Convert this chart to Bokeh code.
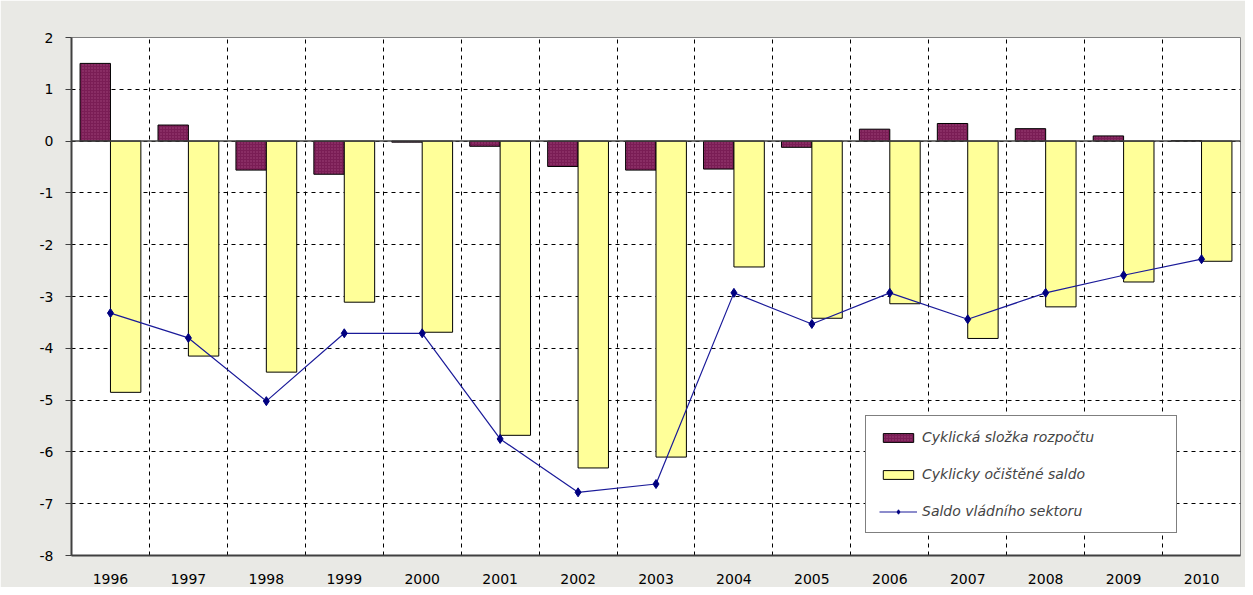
import numpy as np
from bokeh.plotting import figure
from bokeh.models import ColumnDataSource, FixedTicker, Legend, LegendItem, Span
from bokeh.transform import dodge
from bokeh.embed import file_html
from bokeh.resources import INLINE

years = ["1996", "1997", "1998", "1999", "2000", "2001", "2002", "2003",
         "2004", "2005", "2006", "2007", "2008", "2009", "2010"]
cyclical = [1.5, 0.31, -0.56, -0.64, -0.02, -0.10, -0.49, -0.56,
            -0.54, -0.12, 0.23, 0.34, 0.24, 0.10, 0.01]
adjusted = [-4.85, -4.15, -4.46, -3.11, -3.69, -5.68, -6.31, -6.10,
            -2.43, -3.42, -3.14, -3.81, -3.20, -2.72, -2.32]
balance = [-3.32, -3.80, -5.02, -3.71, -3.71, -5.75, -6.78, -6.62,
           -2.93, -3.53, -2.93, -3.44, -2.93, -2.59, -2.28]
y_ticks = [-8, -7, -6, -5, -4, -3, -2, -1, 0, 1, 2]
label_cyc = "Cyklická složka rozpočtu"
label_adj = "Cyklicky očištěné saldo"
label_bal = "Saldo vládního sektoru"

xs = np.arange(len(years))
src = ColumnDataSource(dict(x=xs, cyc=cyclical, adj=adjusted, bal=balance))

p = figure(width=1245, height=587, x_range=(-0.5, len(years) - 0.5), y_range=(-8, 2),
           output_backend="svg", toolbar_location=None,
           min_border_left=71, min_border_right=5, min_border_top=37, min_border_bottom=32)
p.border_fill_color = "#E9E9E5"
p.background_fill_color = "white"
p.outline_line_color = "#808080"

FONT = "DejaVu Sans"

bw = 0.39
r1 = p.vbar(x=dodge("x", -bw / 2), top="cyc", bottom=0, width=bw, source=src,
            fill_color="#7A1D55", line_color="black", line_width=1,
            hatch_pattern="dot", hatch_color="#A0457A", hatch_scale=3)
r2 = p.vbar(x=dodge("x", bw / 2), top=0, bottom="adj", width=bw, source=src,
            fill_color="#FFFF99", line_color="black", line_width=1)
zero = Span(location=0, dimension="width", line_color="#404040", line_width=1.5)
p.add_layout(zero)
r3 = p.line(x="x", y="bal", source=src, line_color="#1A1A99", line_width=1.2)
r4 = p.scatter(x="x", y="bal", source=src, marker="diamond", size=9,
               fill_color="#000080", line_color="#000080")

# grids
p.ygrid.ticker = FixedTicker(ticks=y_ticks)
p.ygrid.grid_line_color = "black"
p.ygrid.grid_line_dash = "4 4"
p.xgrid.ticker = FixedTicker(ticks=[i + 0.5 for i in range(len(years) - 1)])
p.xgrid.grid_line_color = "black"
p.xgrid.grid_line_dash = "4 4"

# axes
p.yaxis.ticker = FixedTicker(ticks=y_ticks)
p.yaxis.major_label_overrides = {t: str(t) for t in y_ticks}
p.yaxis.axis_line_color = "#404040"
p.yaxis.axis_line_width = 2
p.yaxis.major_tick_line_color = "#404040"
p.yaxis.major_tick_out = 6
p.yaxis.major_tick_in = 0
p.yaxis.minor_tick_line_color = None
p.yaxis.major_label_text_font = FONT
p.yaxis.major_label_text_font_size = "14px"
p.yaxis.major_label_text_color = "black"
p.yaxis.major_label_standoff = 12

p.xaxis.ticker = FixedTicker(ticks=list(xs))
p.xaxis.major_label_overrides = {int(i): y for i, y in zip(xs, years)}
p.xaxis.axis_line_color = "#404040"
p.xaxis.axis_line_width = 2
p.xaxis.major_tick_line_color = None
p.xaxis.minor_tick_line_color = None
p.xaxis.major_label_text_font = FONT
p.xaxis.major_label_text_font_size = "14px"
p.xaxis.major_label_text_color = "black"
p.xaxis.major_label_standoff = 12

legend = Legend(items=[
    LegendItem(label=label_cyc, renderers=[r1]),
    LegendItem(label=label_adj, renderers=[r2]),
    LegendItem(label=label_bal, renderers=[r3, r4]),
], location=(794, 22))
legend.label_text_font = FONT
legend.label_text_font_style = "italic"
legend.label_text_font_size = "14px"
legend.glyph_width = 38
legend.glyph_height = 11
legend.label_height = 14
legend.spacing = 21
legend.padding = 13
legend.margin = 0
legend.label_width = 241
legend.border_line_color = "black"
legend.border_line_width = 1.5
legend.background_fill_alpha = 1
p.add_layout(legend)

open("out.html", "w").write(file_html(p, INLINE))
